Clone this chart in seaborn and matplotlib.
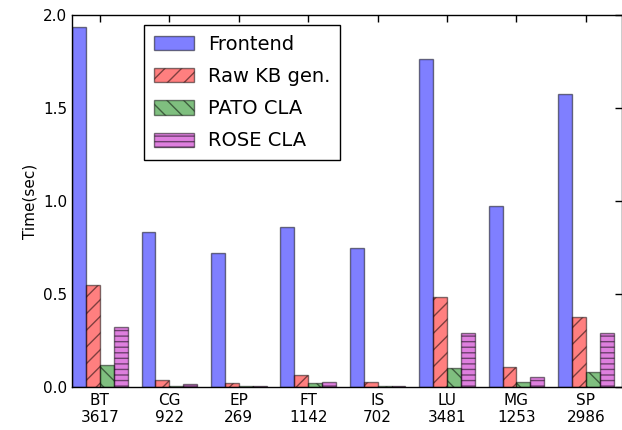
import matplotlib

matplotlib.use("Agg")
import matplotlib.pyplot as plt
import pandas as pd
import seaborn as sns

benchmarks = ["BT\n3617", "CG\n922", "EP\n269", "FT\n1142",
              "IS\n702", "LU\n3481", "MG\n1253", "SP\n2986"]
series = ["Frontend", "Raw KB gen.", "PATO CLA", "ROSE CLA"]
frontend = [1.935, 0.835, 0.72, 0.86, 0.745, 1.765, 0.975, 1.575]
raw_kb = [0.548, 0.037, 0.02, 0.065, 0.028, 0.486, 0.109, 0.378]
pato = [0.118, 0.008, 0.005, 0.02, 0.005, 0.10, 0.028, 0.082]
rose = [0.324, 0.018, 0.005, 0.026, 0.005, 0.288, 0.055, 0.288]

colors = ["#0000ff", "#ff0000", "#008000", "#bf00bf"]
hatches = [None, "//", "\\\\", "---"]

df = pd.DataFrame({
    "bench": benchmarks * 4,
    "series": [s for s in series for _ in benchmarks],
    "time": frontend + raw_kb + pato + rose,
})

sns.set_style("white")
plt.rcParams.update({
    "font.family": ["DejaVu Sans"],
    "text.color": "black",
    "axes.labelcolor": "black",
    "xtick.color": "black",
    "ytick.color": "black",
    "xtick.direction": "in",
    "ytick.direction": "in",
    "xtick.top": True,
    "ytick.right": True,
    "axes.edgecolor": "black",
    "axes.linewidth": 1.0,
})

fig = plt.figure(figsize=(6.22, 4.3), dpi=100)
ax = fig.add_axes([0.116, 0.1, 0.884, 0.865])

sns.barplot(data=df, x="bench", y="time", hue="series", palette=colors,
            saturation=1, alpha=0.5, edgecolor="black", linewidth=1,
            width=0.8, ax=ax, legend=False)

# hatch each series like the original figure
for cont, h in zip(ax.containers, hatches):
    for bar in cont:
        if h:
            bar.set_hatch(h)

ax.set_xlim(-0.4, 7.52)
ax.set_ylim(0, 2.0)
ax.set_yticks([0.0, 0.5, 1.0, 1.5, 2.0])
ax.set_xlabel("")
ax.set_ylabel("Time(sec)", fontsize=11)
ax.tick_params(axis="both", labelsize=11, length=5, width=1)
ax.tick_params(axis="x", pad=4)

leg = ax.legend(ax.containers, series, loc="upper left",
                bbox_to_anchor=(0.131, 0.973), fontsize=14, frameon=True,
                fancybox=False, edgecolor="black", framealpha=1,
                handlelength=2.05, handleheight=0.75, handletextpad=0.75,
                borderpad=0.5, labelspacing=0.68, borderaxespad=0)
leg.get_frame().set_linewidth(1.0)

fig.savefig("out.png", dpi=100)
